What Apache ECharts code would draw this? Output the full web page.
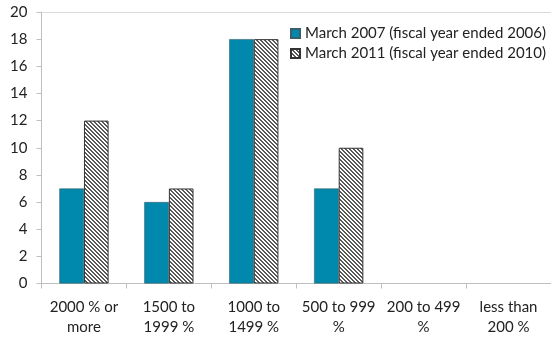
<!DOCTYPE html>
<html>
<head>
<meta charset="utf-8">
<script src="https://cdn.jsdelivr.net/npm/echarts@6/dist/echarts.min.js"></script>
<style>
  html, body { margin: 0; padding: 0; background: #fff; }
  #chart { width: 551px; height: 339px; }
</style>
</head>
<body>
<div id="chart"></div>
<script>
// categories and values
var categories = ["2000 % or\nmore", "1500 to\n1999 %", "1000 to\n1499 %", "500 to 999\n%", "200 to 499\n%", "less than\n200 %"];
var seriesNames = ["March 2007 (fiscal year ended 2006)", "March 2011 (fiscal year ended 2010)"];
var march2007 = [7, 6, 18, 7, 0, 0];
var march2011 = [12, 7, 18, 10, 0, 0];

// diagonal hatch tile for the second series
function hatch() {
    var c = document.createElement("canvas");
    c.width = 4;
    c.height = 4;
    var ctx = c.getContext("2d");
    ctx.fillStyle = "#ffffff";
    ctx.fillRect(0, 0, 4, 4);
    ctx.fillStyle = "#5a5a5a";
    for (var y = 0; y < 4; y++) {
        for (var x = 0; x < 4; x++) {
            var d = ((x - y) % 4 + 4) % 4;
            if (d === 0 || d === 1) ctx.fillRect(x, y, 1, 1);
        }
    }
    return c;
}

// zero bars get no border, otherwise a stray line sits on the axis
function noBorderAtZero(arr) {
    return arr.map(function (v) {
        return v === 0 ? { value: v, itemStyle: { borderWidth: 0 } } : v;
    });
}

var font = "Lato, 'Open Sans', sans-serif";
var chart = echarts.init(document.getElementById("chart"));

var option = {
    animation: false,
    textStyle: { fontFamily: font },
    legend: {
        orient: "vertical",
        left: 285,
        top: 21,
        icon: "rect",
        itemWidth: 9,
        itemHeight: 9,
        itemGap: 5,
        textStyle: { fontSize: 15, color: "#222", fontFamily: font },
        data: seriesNames
    },
    grid: { left: 41.5, right: -6.5, top: 12, bottom: 55.5, containLabel: false },
    xAxis: {
        type: "category",
        data: categories,
        axisLine: { lineStyle: { color: "#bfbfbf" } },
        axisTick: { show: true, length: 5, lineStyle: { color: "#bfbfbf" } },
        axisLabel: { color: "#222", fontSize: 15, lineHeight: 20, margin: 14, interval: 0 }
    },
    yAxis: {
        type: "value",
        min: 0,
        max: 20,
        interval: 2,
        axisLine: { show: true, lineStyle: { color: "#bfbfbf" } },
        axisTick: { show: true, length: 5, lineStyle: { color: "#bfbfbf" } },
        splitLine: { show: false },
        axisLabel: { color: "#222", fontSize: 15, margin: 14 }
    },
    series: [
        {
            name: seriesNames[0],
            type: "bar",
            data: noBorderAtZero(march2007),
            barGap: "0%",
            barCategoryGap: "42%",
            itemStyle: { color: "#0089ad", borderColor: "#3b5f6a", borderWidth: 0.6 },
            markLine: {
                silent: true,
                symbol: "none",
                label: { show: false },
                lineStyle: { color: "#d9d9d9", type: "solid", width: 1 },
                data: [{ yAxis: 20 }]
            }
        },
        {
            name: seriesNames[1],
            type: "bar",
            data: noBorderAtZero(march2011),
            itemStyle: {
                color: { image: hatch(), repeat: "repeat" },
                borderColor: "#333",
                borderWidth: 1
            }
        }
    ]
};

chart.setOption(option);
window.addEventListener("resize", function () {
    chart.resize();
});
</script>
</body>
</html>
